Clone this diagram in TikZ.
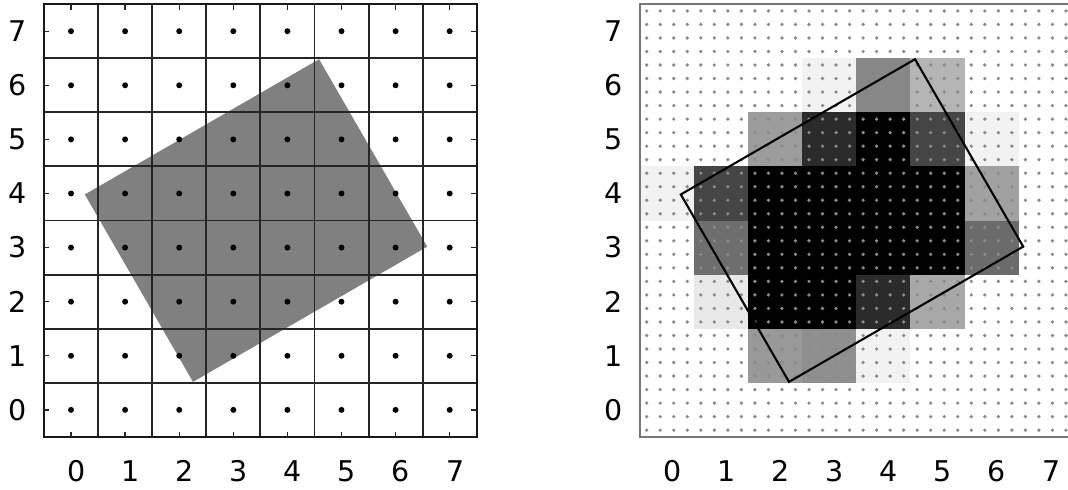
\documentclass[tikz,border=0pt]{standalone}
\usepackage{fontspec}
\setmainfont{DejaVu Sans}
\usetikzlibrary{positioning}
\definecolor{boxgray}{HTML}{808080}
\definecolor{samplegray}{HTML}{8A8A8A}
\definecolor{axisgray}{HTML}{777777}
\tikzset{
  ticklabel/.style={font=\fontsize{15}{18}\selectfont, inner sep=0pt},
  cellline/.style={black!85, line width=1pt}
}

\begin{document}
\begin{tikzpicture}
  \useasboundingbox (-1.313,-1.48) rectangle (18.43,7.577);
  % Left: one sample per pixel
  \fill[boxgray, rotate around={30:(3.42,3.5)}] (0.92,1.5) rectangle (5.92,5.5);
  \draw[cellline, xshift=-0.5cm, yshift=-0.5cm] (0,0) grid (8,8);
  \draw[black!90, line width=1.2pt] (-0.5,-0.5) rectangle (7.5,7.5);
  \foreach \k in {0,...,7} {
    \draw[cellline, line width=0.7pt] (\k,-0.5) -- ++(0,0.1) (\k,7.5) -- ++(0,-0.1)
      (-0.5,\k) -- ++(0.1,0) (7.5,\k) -- ++(-0.1,0);
    \node[ticklabel] (lx\k) at (\k+0.1,-1.13) {\k};
    \node[ticklabel] (ly\k) at (-0.99,\k) {\k};
  }
  \foreach \i in {0,...,7}
    \foreach \j in {0,...,7}
      \fill (\i,\j) circle (0.055);

  % Right: 4x4 samples per pixel, coverage as grey level
  \begin{scope}[xshift=11.017cm]
    \foreach \i/\j/\g in {3/6/5, 4/6/47, 5/6/29,
        2/5/39, 3/5/83, 4/5/100, 5/5/73, 6/5/5,
        0/4/5, 1/4/73, 2/4/100, 3/4/100, 4/4/100, 5/4/100, 6/4/37,
        1/3/57, 2/3/100, 3/3/100, 4/3/100, 5/3/100, 6/3/58,
        1/2/9, 2/2/100, 3/2/100, 4/2/83, 5/2/34,
        2/1/40, 3/1/44, 4/1/5}
      \fill[black!\g] (\i-0.5,\j-0.5) rectangle ++(1,1);
    \foreach \i in {0,...,31}
      \foreach \j in {0,...,31}
        \fill[samplegray] (-0.375+0.25*\i,-0.375+0.25*\j) circle (0.034);
    \draw[axisgray, line width=0.7pt] (-0.5,-0.5) rectangle (7.5,7.5);
    \draw[line width=1.1pt, rotate around={30:(3.42,3.5)}] (0.92,1.5) rectangle (5.92,5.5);
    \foreach \k in {0,...,7} {
      \node[ticklabel] (rx\k) at (\k+0.1,-1.13) {\k};
      \node[ticklabel] (ry\k) at (-0.99,\k) {\k};
    }
  \end{scope}
\end{tikzpicture}
\end{document}
